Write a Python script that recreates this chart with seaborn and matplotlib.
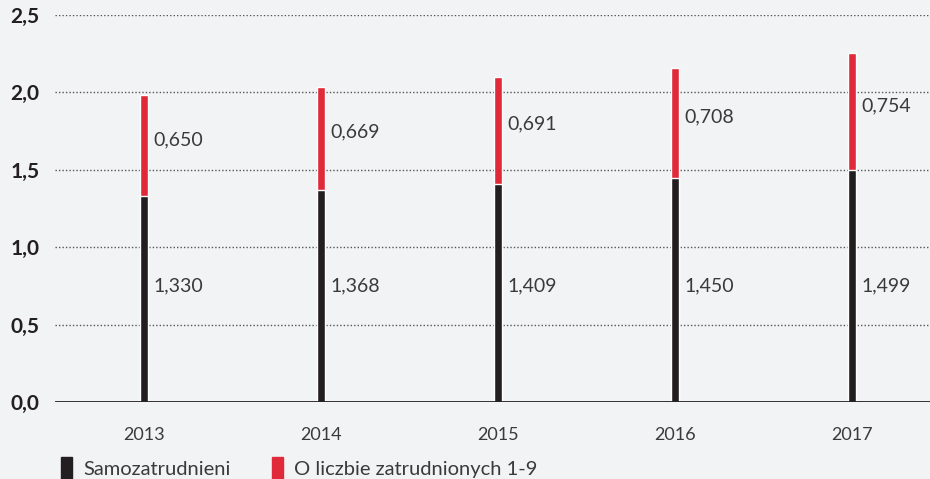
import matplotlib
matplotlib.use("Agg")
import matplotlib.pyplot as plt
import seaborn as sns
import pandas as pd
from matplotlib.patches import Rectangle

# data
years = ["2013", "2014", "2015", "2016", "2017"]
samozatrudnieni = [1.330, 1.368, 1.409, 1.450, 1.499]
zatrudnieni_1_9 = [0.650, 0.669, 0.691, 0.708, 0.754]
y_ticks = [0.0, 0.5, 1.0, 1.5, 2.0, 2.5]

bg = "#f2f3f5"
black = "#231f20"
red = "#e02a3a"
text_col = "#3a3a3a"

sns.set_theme(style="white")
plt.rcParams["font.family"] = ["Lato", "DejaVu Sans"]

df = pd.DataFrame({
    "rok": years,
    "self": samozatrudnieni,
    "small": zatrudnieni_1_9,
})
df["total"] = df["self"] + df["small"]

fig = plt.figure(figsize=(9.3, 4.79), dpi=100, facecolor=bg)
ax = fig.add_axes([0.059, 0.1608, 0.941, 0.8079])
ax.set_facecolor(bg)

# stacked: totals in red, then the black part drawn over it
sns.barplot(data=df, x="rok", y="total", color=red, width=0.046,
            saturation=1, ax=ax, zorder=3)
sns.barplot(data=df, x="rok", y="self", color=black, width=0.046,
            saturation=1, ax=ax, zorder=4)

ax.set_ylim(0, 2.5)
ax.set_xlim(-0.503, 4.44)
ax.set_yticks(y_ticks)
ax.set_yticklabels([f"{v:.1f}".replace(".", ",") for v in y_ticks],
                   fontsize=15, fontweight="bold", color=black)
ax.tick_params(axis="y", length=0, pad=11)
ax.tick_params(axis="x", length=0, pad=18, labelsize=13, labelcolor=text_col)
ax.set_xlabel("")
ax.set_ylabel("")
for s in ax.spines.values():
    s.set_visible(False)

# dotted grid + solid baseline
for v in y_ticks[1:]:
    ax.axhline(v, color="#555555", lw=1.0, ls=(0, (1, 1.5)), zorder=1)
ax.axhline(0, color=black, lw=2, zorder=5)

# value labels
for i, row in df.iterrows():
    ax.text(i + 0.055, 0.75, f"{row['self']:.3f}".replace(".", ","),
            va="center", ha="left", fontsize=14, color=text_col, zorder=6)
    ax.text(i + 0.055, row["self"] + row["small"] / 2 + 0.04,
            f"{row['small']:.3f}".replace(".", ","),
            va="center", ha="left", fontsize=14, color=text_col, zorder=6)

handles = [Rectangle((0, 0), 1, 1, color=black), Rectangle((0, 0), 1, 1, color=red)]
fig.legend(handles, ["Samozatrudnieni", "O liczbie zatrudnionych 1-9"],
           loc="lower left", bbox_to_anchor=(0.046, -0.038), ncol=2,
           frameon=False, fontsize=14.5, handlelength=0.55, handleheight=1.3,
           handletextpad=0.55, columnspacing=2.05, labelcolor=text_col)

fig.savefig("out.png", dpi=100, facecolor=bg)
